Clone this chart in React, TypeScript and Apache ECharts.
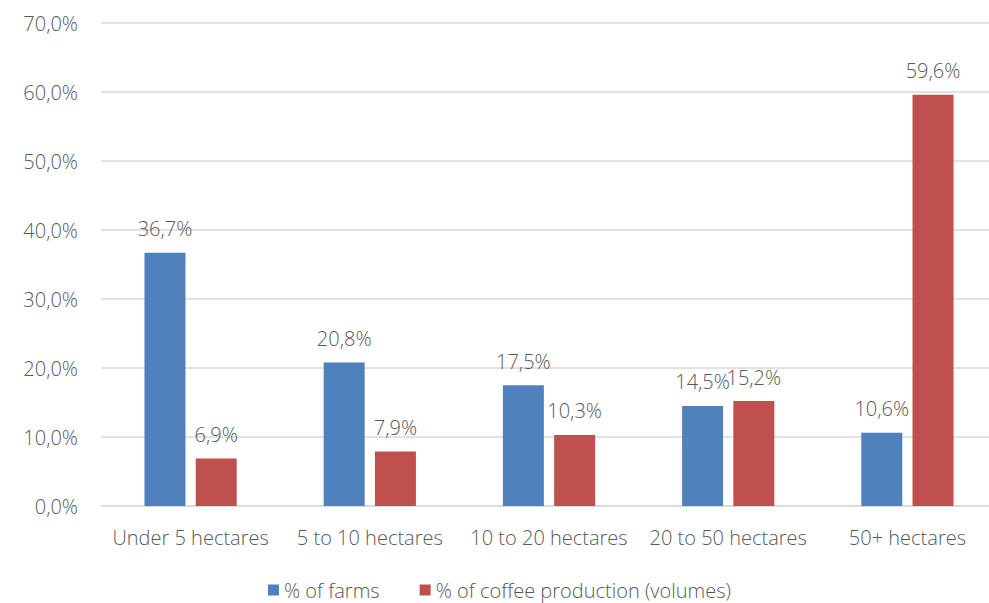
import React, { useEffect, useRef } from "react";
import * as echarts from "echarts";

const categories = ["Under 5 hectares", "5 to 10 hectares", "10 to 20 hectares", "20 to 50 hectares", "50+ hectares"];
const farms = [36.7, 20.8, 17.5, 14.5, 10.6];
const coffee = [6.9, 7.9, 10.3, 15.2, 59.6];
const seriesNames = ["% of farms", "% of coffee production (volumes)"];

const FONT = "Open Sans";
const FW = 300;
const FS = 20;
const TXT = "#595959";
const fmt = (v: number) => v.toFixed(1).replace(".", ",") + "%";

export default function App() {
  const ref = useRef<HTMLDivElement>(null);
  useEffect(() => {
    const chart = echarts.init(ref.current!, null, { renderer: "svg" });
    const label = {
      show: true,
      position: "top" as const,
      distance: 14,
      color: TXT,
      fontFamily: FONT,
      fontWeight: FW,
      fontSize: FS,
      formatter: (p: any) => fmt(p.value),
    };
    chart.setOption({
      animation: false,
      backgroundColor: "#ffffff",
      grid: { left: 101, right: 0, top: 23, bottom: 97, containLabel: false },
      legend: {
        top: 575,
        left: 263,
        itemWidth: 11,
        itemHeight: 11,
        itemGap: 40,
        icon: "rect",
        textStyle: { color: TXT, fontFamily: FONT, fontWeight: FW, fontSize: FS },
        data: seriesNames,
      },
      xAxis: {
        type: "category",
        data: categories,
        axisLine: { lineStyle: { color: "#d9d9d9", width: 1.5 } },
        axisTick: { show: false },
        axisLabel: { interval: 0, color: TXT, fontFamily: FONT, fontWeight: FW, fontSize: FS, margin: 21 },
      },
      yAxis: {
        type: "value",
        min: 0,
        max: 70,
        interval: 10,
        axisLine: { show: false },
        axisTick: { show: false },
        splitLine: { lineStyle: { color: "#d9d9d9", width: 1.5 } },
        axisLabel: {
          color: TXT,
          fontFamily: FONT,
          fontWeight: FW,
          fontSize: FS,
          margin: 23,
          formatter: (v: number) => fmt(v),
        },
      },
      series: [
        {
          name: seriesNames[0],
          type: "bar",
          data: farms,
          barWidth: 41,
          barGap: "25%",
          itemStyle: { color: "#4f81bd" },
          label,
        },
        {
          name: seriesNames[1],
          type: "bar",
          data: coffee,
          barWidth: 41,
          barGap: "25%",
          itemStyle: { color: "#c0504d" },
          label,
        },
      ],
    });
    return () => chart.dispose();
  }, []);
  return (
    <div style={{ position: "fixed", left: 0, top: 0, width: 989, height: 603, overflow: "hidden", background: "#fff" }}>
      <div ref={ref} style={{ width: 997, height: 603 }} />
    </div>
  );
}
